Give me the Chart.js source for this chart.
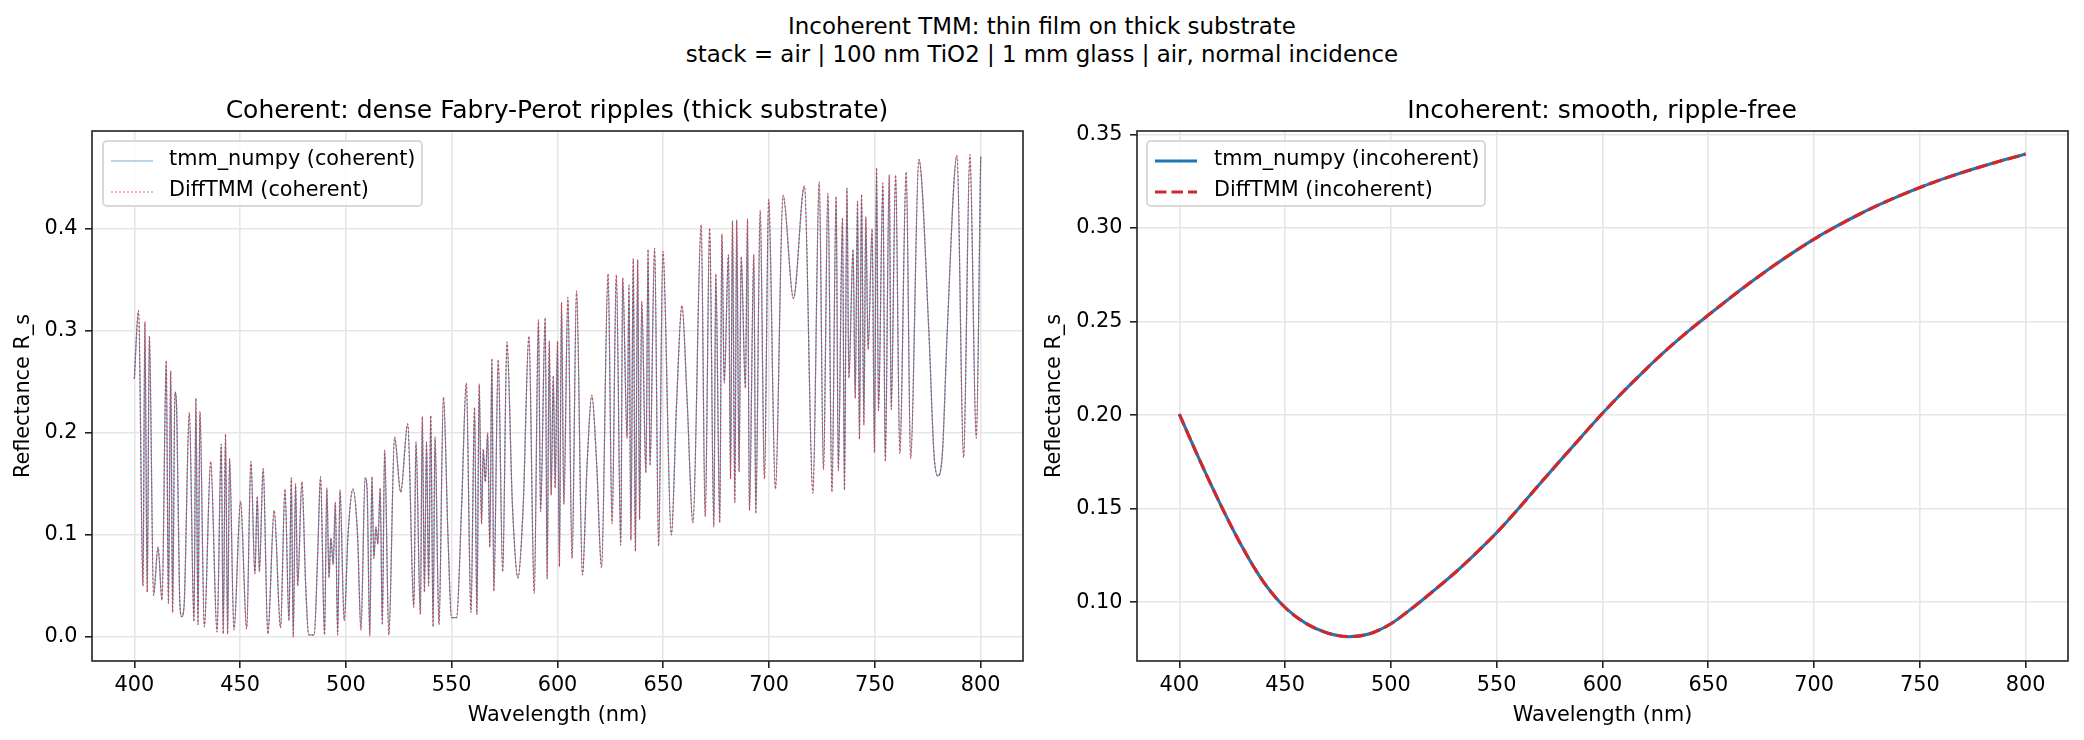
<!DOCTYPE html>
<html lang="en">
<head>
<meta charset="UTF-8">
<title>Incoherent TMM</title>
<script src="https://cdn.jsdelivr.net/npm/chart.js"></script>
<style>
    html, body { margin: 0; padding: 0; background: #fff; }
    body { font-family: 'DejaVu Sans', sans-serif; color: #000; }
    #fig { position: relative; width: 2084px; height: 740px; overflow: hidden; background: #fff; }
    canvas { position: absolute; top: 0; }
    .sup { position: absolute; left: 0; width: 2084px; text-align: center; font-size: 22.9px; line-height: 28px; white-space: pre; }
    .axtitle { position: absolute; width: 1000px; text-align: center; font-size: 25px; line-height: 30px; white-space: pre; }
    .legend {
        position: absolute; top: 140px; height: 63px;
        border: 2px solid #d9d9d9; border-radius: 5px;
        background: rgba(255,255,255,0.8);
    }
    .legend svg { position: absolute; left: 7px; }
    .legend span { position: absolute; font-size: 20.8px; line-height: 24px; white-space: pre; }
</style>
</head>
<body>
<div id="fig">
    <div class="sup" style="top:12px">Incoherent TMM: thin film on thick substrate</div>
    <div class="sup" style="top:40px">stack = air | 100 nm TiO2 | 1 mm glass | air, normal incidence</div>

    <canvas id="cohChart" width="1042" height="740" style="left:0"></canvas>
    <canvas id="incChart" width="1042" height="740" style="left:1042px"></canvas>

    <div class="axtitle" style="left:57px;top:95px">Coherent: dense Fabry-Perot ripples (thick substrate)</div>
    <div class="axtitle" style="left:1102px;top:95px">Incoherent: smooth, ripple-free</div>

    <!-- legends, same layout as the matplotlib boxes -->
    <div class="legend" style="left:102px;width:317px">
        <svg width="42" height="10" style="top:14px"><line x1="0" y1="5" x2="42" y2="5" stroke="rgba(31,119,180,0.6)" stroke-width="1.2"/></svg>
        <span style="left:65px;top:4px">tmm_numpy (coherent)</span>
        <svg width="42" height="10" style="top:45px"><line x1="0" y1="5" x2="42" y2="5" stroke="rgba(214,39,40,0.7)" stroke-width="1.2" stroke-dasharray="2,2"/></svg>
        <span style="left:65px;top:35px">DiffTMM (coherent)</span>
    </div>
    <div class="legend" style="left:1146px;width:336px">
        <svg width="42" height="10" style="top:14px"><line x1="0" y1="5" x2="42" y2="5" stroke="#1f77b4" stroke-width="3.1"/></svg>
        <span style="left:66px;top:4px">tmm_numpy (incoherent)</span>
        <svg width="42" height="10" style="top:45px"><line x1="0" y1="5" x2="42" y2="5" stroke="#d62728" stroke-width="3.1" stroke-dasharray="11.5,5"/></svg>
        <span style="left:66px;top:35px">DiffTMM (incoherent)</span>
    </div>
</div>

<script>
// Coherent spectrum: peaks and troughs (nm, R_s)
const waveCoh = [
    400, 402.0, 404.1, 405.0, 406.1, 407.1, 409.1, 411.2, 413.1, 415.1,
    416.1, 417.2, 418.1, 419.2, 420.0, 421.4, 422.4, 423.5, 426.0, 428.2,
    429.1, 430.1, 431.0, 433.1, 436.1, 439.1, 441.1, 442.0, 443.1, 444.1,
    445.0, 447.1, 450.2, 453.1, 455.1, 457.0, 458.1, 459.1, 460.9, 463.1,
    466.1, 469.1, 471.2, 473.1, 474.2, 475.1, 476.2, 477.2, 479.2, 481.0,
    482.4, 485.0, 486.6, 488.0, 489.9, 491.0, 492.0, 492.9, 494.0, 495.0,
    496.1, 497.2, 499.2, 501.0, 503.3, 505.5, 507.1, 509.1, 510.0, 511.3,
    512.3, 513.2, 514.2, 515.1, 516.2, 517.2, 518.3, 520.3, 523.0, 525.9,
    529.2, 532.1, 533.1, 535.2, 536.1, 537.1, 538.1, 539.1, 540.1, 541.2,
    542.1, 544.0, 546.1, 548.3, 549.9, 552.3, 554.7, 556.9, 559.1, 560.8,
    561.9, 563.0, 564.1, 564.9, 565.9, 567.0, 568.0, 569.0, 569.9, 572.0,
    574.1, 576.1, 578.7, 581.3, 583.8, 586.5, 589.0, 591.0, 592.0, 594.2,
    595.1, 596.1, 597.0, 598.0, 598.9, 600.0, 600.9, 601.9, 603.0, 604.9,
    606.9, 609.0, 611.8, 614.0, 616.2, 618.5, 620.8, 623.9, 625.8, 627.8,
    629.9, 630.8, 632.9, 633.8, 634.7, 635.8, 636.8, 637.9, 638.8, 639.8,
    641.8, 642.8, 643.7, 645.9, 647.8, 649.8, 653.8, 656.3, 658.8, 661.3,
    664.0, 667.9, 669.8, 671.9, 673.9, 674.8, 676.7, 677.7, 678.8, 680.8,
    681.8, 682.7, 683.8, 684.7, 685.8, 686.8, 688.8, 689.8, 690.7, 692.8,
    693.7, 695.8, 697.8, 699.8, 703.0, 706.6, 711.5, 716.7, 720.7, 723.7,
    725.7, 727.8, 729.7, 731.7, 732.7, 734.7, 735.6, 736.8, 737.7, 739.7,
    740.7, 741.8, 742.7, 743.7, 744.8, 745.7, 746.8, 748.7, 749.8, 750.8,
    751.7, 753.8, 754.9, 756.8, 757.7, 759.8, 761.8, 764.8, 766.9, 770.8,
    775.5, 777.9, 779.7, 781.9, 784.2, 788.8, 791.9, 794.9, 797.9, 800.0
];
const rNumpyCoh = [
    0.253, 0.320, 0.050, 0.309, 0.044, 0.295, 0.041, 0.088, 0.036, 0.271,
    0.033, 0.261, 0.024, 0.240, 0.225, 0.040, 0.020, 0.030, 0.220, 0.015,
    0.234, 0.012, 0.221, 0.010, 0.172, 0.005, 0.189, 0.003, 0.199, 0.003,
    0.175, 0.007, 0.133, 0.008, 0.172, 0.062, 0.138, 0.064, 0.165, 0.003,
    0.124, 0.009, 0.145, 0.016, 0.156, 0.000, 0.150, 0.050, 0.152, 0.050,
    0.002, 0.002, 0.077, 0.157, 0.002, 0.146, 0.058, 0.097, 0.071, 0.132,
    0.002, 0.144, 0.016, 0.100, 0.145, 0.100, 0.007, 0.156, 0.145, 0.001,
    0.157, 0.077, 0.108, 0.091, 0.146, 0.012, 0.183, 0.002, 0.196, 0.142,
    0.209, 0.029, 0.191, 0.022, 0.216, 0.044, 0.191, 0.050, 0.217, 0.010,
    0.196, 0.012, 0.235, 0.095, 0.019, 0.019, 0.129, 0.249, 0.024, 0.225,
    0.022, 0.248, 0.111, 0.184, 0.152, 0.200, 0.088, 0.273, 0.045, 0.272,
    0.064, 0.289, 0.129, 0.058, 0.129, 0.295, 0.043, 0.311, 0.123, 0.313,
    0.057, 0.290, 0.139, 0.256, 0.146, 0.290, 0.069, 0.328, 0.130, 0.333,
    0.077, 0.339, 0.061, 0.170, 0.237, 0.170, 0.068, 0.356, 0.111, 0.355,
    0.090, 0.352, 0.195, 0.345, 0.095, 0.371, 0.084, 0.370, 0.115, 0.329,
    0.161, 0.380, 0.168, 0.381, 0.089, 0.378, 0.100, 0.230, 0.325, 0.230,
    0.112, 0.404, 0.118, 0.401, 0.108, 0.356, 0.112, 0.395, 0.249, 0.375,
    0.155, 0.408, 0.132, 0.409, 0.162, 0.373, 0.244, 0.410, 0.124, 0.375,
    0.121, 0.418, 0.155, 0.429, 0.145, 0.433, 0.332, 0.442, 0.141, 0.446,
    0.164, 0.435, 0.142, 0.432, 0.163, 0.411, 0.144, 0.440, 0.254, 0.380,
    0.234, 0.427, 0.194, 0.434, 0.208, 0.412, 0.282, 0.400, 0.181, 0.460,
    0.222, 0.445, 0.172, 0.453, 0.223, 0.453, 0.180, 0.456, 0.175, 0.468,
    0.300, 0.180, 0.158, 0.180, 0.300, 0.472, 0.176, 0.473, 0.195, 0.471
];
// DiffTMM sits exactly on top of tmm_numpy in the picture
const rDiffCoh = rNumpyCoh.slice();

// Incoherent spectrum, read every 10 nm
const waveInc = [
    400, 410, 420, 430, 440, 450, 460, 470, 480, 490,
    500, 510, 520, 530, 540, 550, 560, 570, 580, 590,
    600, 610, 620, 630, 640, 650, 660, 670, 680, 690,
    700, 710, 720, 730, 740, 750, 760, 770, 780, 790, 800
];
const rNumpyInc = [
    0.2005, 0.1750, 0.1510, 0.1290, 0.1105, 0.0972, 0.0886, 0.0836, 0.0816, 0.0832,
    0.0885, 0.0968, 0.1060, 0.1155, 0.1260, 0.1372, 0.1497, 0.1628, 0.1757, 0.1884,
    0.2010, 0.2128, 0.2240, 0.2346, 0.2444, 0.2535, 0.2624, 0.2710, 0.2792, 0.2869,
    0.2941, 0.3006, 0.3066, 0.3121, 0.3171, 0.3217, 0.3259, 0.3297, 0.3332, 0.3365, 0.3396
];
const rDiffInc = rNumpyInc.slice();

// tick labels
const waveTicks = [400, 450, 500, 550, 600, 650, 700, 750, 800];
const cohTicks = [0.0, 0.1, 0.2, 0.3, 0.4];
const incTicks = [0.10, 0.15, 0.20, 0.25, 0.30, 0.35];

Chart.defaults.font.family = "'DejaVu Sans', sans-serif";
Chart.defaults.color = '#000';

const pts = (xs, ys) => xs.map((x, i) => ({x: x, y: ys[i]}));

// draws all four spines like matplotlib
const frame = {
    id: 'frame',
    afterDatasetsDraw(chart) {
        const {ctx, chartArea: a} = chart;
        ctx.save();
        ctx.strokeStyle = '#222';
        ctx.lineWidth = 1.6;
        ctx.strokeRect(a.left, a.top, a.right - a.left, a.bottom - a.top);
        ctx.restore();
    }
};

function axisOpts(yMin, yMax, yTicks, digits, yWidth, yTitlePad) {
    const grid = {color: '#e6e6e6', lineWidth: 1.6, tickColor: '#222', tickLength: 7, tickWidth: 1.6};
    return {
        x: {
            type: 'linear', min: 380, max: 820,
            afterBuildTicks: s => { s.ticks = waveTicks.map(v => ({value: v})); },
            afterFit: s => { s.height = 79; },
            grid: grid,
            border: {display: false},
            ticks: {font: {size: 20.8}, padding: 5, autoSkip: false, maxRotation: 0,
                    callback: v => String(v)},
            title: {display: true, text: 'Wavelength (nm)', font: {size: 20.8}, padding: {top: 0, bottom: 12}}
        },
        y: {
            min: yMin, max: yMax,
            afterBuildTicks: s => { s.ticks = yTicks.map(v => ({value: v})); },
            afterFit: s => { s.width = yWidth; },
            grid: grid,
            border: {display: false},
            ticks: {font: {size: 20.8}, padding: 7.5, callback: v => Number(v).toFixed(digits)},
            title: {display: true, text: 'Reflectance R_s', font: {size: 20.8}, padding: {top: yTitlePad, bottom: 0}}
        }
    };
}

const common = {
    responsive: false,
    animation: false,
    devicePixelRatio: 1,
    plugins: {legend: {display: false}, title: {display: false}, tooltip: {enabled: false}},
    elements: {point: {radius: 0}}
};

// Coherent panel
new Chart(document.getElementById('cohChart'), {
    type: 'line',
    data: {
        datasets: [{
            label: 'tmm_numpy (coherent)',
            data: pts(waveCoh, rNumpyCoh),
            borderColor: 'rgba(31,119,180,0.7)',
            borderWidth: 1.2,
            cubicInterpolationMode: 'monotone',
            order: 2
        }, {
            label: 'DiffTMM (coherent)',
            data: pts(waveCoh, rDiffCoh),
            borderColor: 'rgba(214,39,40,0.75)',
            borderWidth: 1.2,
            borderDash: [2, 2],
            cubicInterpolationMode: 'monotone',
            order: 1
        }]
    },
    options: Object.assign({}, common, {
        layout: {padding: {top: 131, right: 19, bottom: 0, left: 0}},
        scales: axisOpts(-0.0236, 0.4961, cohTicks, 1, 92, 11.5)
    }),
    plugins: [frame]
});

// Incoherent panel
new Chart(document.getElementById('incChart'), {
    type: 'line',
    data: {
        datasets: [{
            label: 'tmm_numpy (incoherent)',
            data: pts(waveInc, rNumpyInc),
            borderColor: '#1f77b4',
            borderWidth: 3.1,
            cubicInterpolationMode: 'monotone',
            order: 2
        }, {
            label: 'DiffTMM (incoherent)',
            data: pts(waveInc, rDiffInc),
            borderColor: '#d62728',
            borderWidth: 3.1,
            borderDash: [11.5, 5],
            cubicInterpolationMode: 'monotone',
            order: 1
        }]
    },
    options: Object.assign({}, common, {
        layout: {padding: {top: 131, right: 16, bottom: 0, left: 0}},
        scales: axisOpts(0.0686, 0.3519, incTicks, 2, 95, 0.5)
    }),
    plugins: [frame]
});
</script>
</body>
</html>
